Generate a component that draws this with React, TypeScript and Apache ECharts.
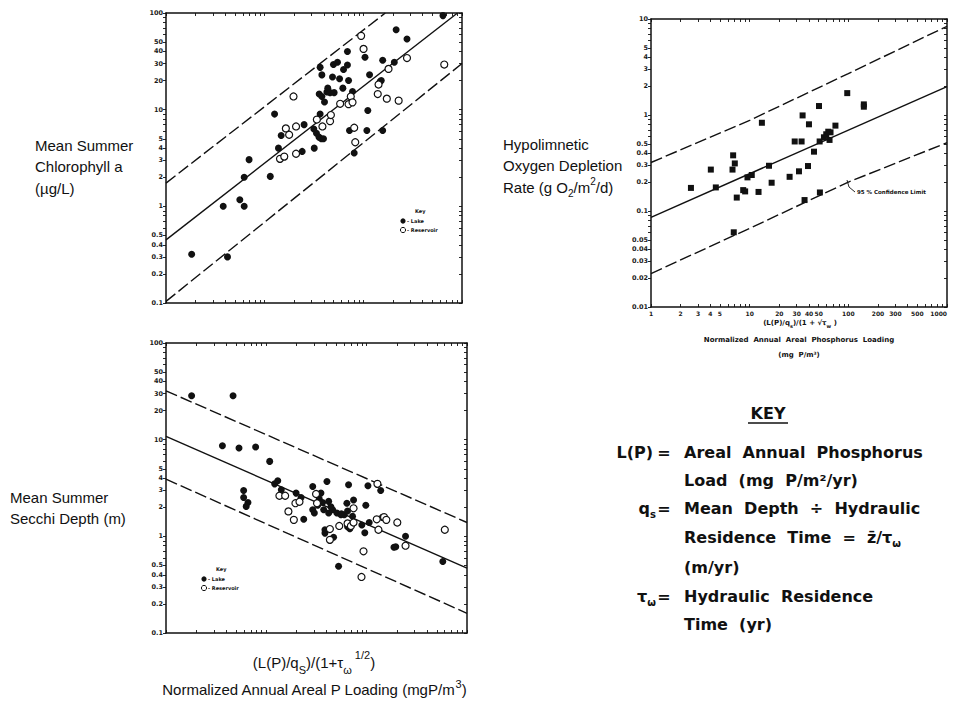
import React, { useEffect, useRef } from "react";
import * as echarts from "echarts";

// ---------- tick labels ----------
const chlYLabels = [0.1, 0.2, 0.3, 0.4, 0.5, 1, 2, 3, 4, 5, 10, 20, 30, 40, 50, 100];
const secYLabels = [0.1, 0.2, 0.3, 0.4, 0.5, 1, 2, 3, 4, 5, 10, 20, 30, 40, 50, 100];
const hypYLabels = [0.01, 0.02, 0.03, 0.04, 0.05, 0.1, 0.2, 0.3, 0.4, 0.5, 1, 2, 3, 4, 5, 10];
const hypXLabels = [1, 2, 3, 4, 5, 10, 20, 30, 40, 50, 100, 200, 300, 500, 1000];

// ---------- Mean summer chlorophyll a (µg/L) ----------
const chlLake: [number, number][] = [
  [1.82, 0.32], [3.8, 1.0], [4.2, 0.3], [5.6, 1.17], [6.2, 1.0], [6.2, 2.0], [6.95, 3.04],
  [11.4, 2.04], [12.6, 9.0], [13.8, 4.0], [14.7, 5.4], [24, 3.7], [25.1, 7.0], [31.8, 4.0],
  [31.5, 6.3], [33.5, 5.7], [35.5, 5.2], [37.5, 5.0], [39.5, 5.0], [36.5, 9.0], [35.7, 14.5],
  [38, 22.9], [36.5, 27.4], [38, 13.7], [40.4, 12], [42.7, 15.2], [43.6, 16.7], [46, 15],
  [50.6, 15], [48.7, 21.8], [49.8, 29.3], [54.7, 31], [57.4, 20.9], [62, 16.7], [63, 26],
  [69, 29], [69, 40], [70.8, 20], [77.7, 15.4], [72.4, 6.1], [80.8, 3.56], [104, 34.8],
  [115.6, 23], [111, 9.8], [108.6, 6.1], [148, 19.6], [152, 20], [157, 32.5], [157, 6.1],
  [206, 31], [215, 67], [277, 53.8], [641, 94],
];
const chlReservoir: [number, number][] = [
  [19.6, 13.7], [16.4, 6.4], [17.7, 5.5], [20.8, 6.7], [14.3, 3.1], [15.8, 3.27], [20.8, 3.5],
  [33.8, 7.9], [38.5, 6.7], [46, 7.6], [46.9, 8.8], [58.2, 11.5], [70.8, 11.4], [74.6, 13.7],
  [77.7, 11.9], [80.8, 6.5], [82.8, 4.6], [95, 58], [100.5, 42.5], [142.6, 18.2], [140, 14.5],
  [173, 13], [180, 26.4], [228, 12.4], [277, 34.2], [661, 29.3],
];
const chlFit: [number, number][] = [[1, 0.45], [900, 100]];
const chlUpper: [number, number][] = [[1, 1.74], [167, 100]];
const chlLower: [number, number][] = [[1, 0.104], [1000, 30]];

// ---------- Mean summer Secchi depth (m) ----------
const secLake: [number, number][] = [
  [1.8, 28.5], [4.66, 28.5], [3.65, 8.65], [5.34, 8.2], [7.82, 8.4], [10.8, 5.96], [5.94, 2.98],
  [5.94, 2.52], [6.56, 2.24], [6.3, 2.04], [12.1, 3.49], [13, 3.75], [14.1, 3.03], [19.8, 2.8],
  [22.2, 2.52], [23.6, 1.5], [29, 3.28], [29, 1.88], [30.1, 1.74], [32.5, 2.1], [35, 2.8],
  [33.7, 2.43], [36.4, 2.24], [37.3, 1.88], [38.4, 1.17], [38.4, 1.08], [40.2, 3.69], [41.8, 2.3],
  [41.8, 1.74], [45.8, 1.88], [46.8, 0.98], [52.5, 0.49], [50.5, 1.74], [55.4, 1.67], [59.8, 1.67],
  [63.5, 2.2], [66, 3.41], [64.5, 1.83], [64.5, 1.26], [68, 1.2], [74, 2.38], [72.3, 1.61],
  [89.5, 1.31], [95.8, 1.09], [98, 2.1], [103, 3.33], [106, 1.39], [138, 2.98], [143.5, 1.57],
  [187, 0.77], [195, 0.78], [244, 1.0], [574, 0.55], [44, 2.02], [56, 1.71],
];
const secReservoir: [number, number][] = [
  [13.5, 2.63], [15.4, 2.63], [16.6, 1.81], [18.8, 1.48], [19.5, 2.2], [21.4, 2.28], [31.3, 2.74],
  [32, 2.2], [43, 1.19], [43, 0.92], [53.3, 1.28], [64.5, 1.36], [69.6, 1.28], [74, 1.39],
  [74, 1.95], [93, 0.7], [88.8, 0.38], [128, 3.49], [126, 1.5], [131, 1.17], [149, 1.58],
  [157, 1.48], [202, 1.39], [244, 0.8], [601, 1.17],
];
const secFit: [number, number][] = [[1, 10.8], [1000, 0.47]];
const secUpper: [number, number][] = [[1, 32], [1000, 1.39]];
const secLower: [number, number][] = [[1, 3.9], [1000, 0.16]];

// ---------- Hypolimnetic oxygen depletion rate (g O2/m2/d) ----------
const hypPoints: [number, number][] = [
  [2.54, 0.174], [4.04, 0.27], [4.54, 0.176], [6.8, 0.38], [6.7, 0.27], [7.07, 0.313], [7.4, 0.138],
  [8.6, 0.165], [9.0, 0.16], [9.5, 0.224], [10.5, 0.237], [12.3, 0.158], [13.3, 0.83], [15.7, 0.296],
  [16.7, 0.197], [25.4, 0.227], [28.6, 0.53], [33.6, 0.53], [31.6, 0.259], [34.4, 0.99], [36, 0.13],
  [39, 0.294], [39.9, 0.8], [44.9, 0.415], [50.4, 1.24], [51.2, 0.53], [51.5, 0.156], [56.6, 0.586],
  [59.7, 0.63], [62.6, 0.67], [64.5, 0.55], [66, 0.66], [74, 0.775], [97.5, 1.69], [143.6, 1.29],
  [143.6, 1.22], [6.9, 0.06],
];
const hypFit: [number, number][] = [[1, 0.086], [1000, 1.98]];
const hypUpper: [number, number][] = [[1, 0.32], [10, 0.88], [100, 2.7], [1000, 8.4]];
const hypLower: [number, number][] = [[1, 0.0223], [10, 0.066], [100, 0.2], [1000, 0.515]];

// ---------- helpers ----------
function logTicks(lo: number, hi: number) {
  const t: number[] = [];
  for (let e = lo; e < hi; e++) for (let m = 1; m < 10; m++) t.push(+(m * Math.pow(10, e)).toPrecision(6));
  t.push(+Math.pow(10, hi).toPrecision(6));
  return t;
}
const fmt = (v: number) => String(+(+v).toPrecision(4));
const INK = "#111";

function axis(
  gridIndex: number,
  min: number,
  max: number,
  position: string,
  ticks: number[],
  labels: number[] | null,
  inside: boolean,
  labelSize = 6.5
) {
  return {
    type: "log",
    logBase: 10,
    gridIndex,
    min,
    max,
    position,
    axisLine: { show: true, onZero: false, lineStyle: { color: INK, width: 1.5 } },
    axisTick: { show: true, inside, length: 3, customValues: ticks, lineStyle: { color: INK, width: 0.9 } },
    axisLabel: labels
      ? {
          show: true,
          customValues: labels,
          formatter: fmt,
          fontSize: labelSize,
          fontWeight: "bold",
          fontFamily: "DejaVu Sans",
          color: "#1a1a1a",
          margin: 3,
          alignMaxLabel: position === "bottom" ? "right" : undefined,
        }
      : { show: false },
    splitLine: { show: false },
    minorTick: { show: false },
    minorSplitLine: { show: false },
  };
}

function scatter(data: [number, number][], gi: number, open: boolean, square = false) {
  return {
    type: "scatter",
    xAxisIndex: gi * 2,
    yAxisIndex: gi * 2,
    data,
    symbol: square ? "rect" : "circle",
    symbolSize: square ? 6 : 7,
    itemStyle: open
      ? { color: "#fff", borderColor: INK, borderWidth: 1.2, opacity: 1 }
      : { color: INK, opacity: 1 },
    z: 4,
  };
}
function line(data: [number, number][], gi: number, dashed: boolean) {
  return {
    type: "line",
    xAxisIndex: gi * 2,
    yAxisIndex: gi * 2,
    data,
    symbol: "none",
    clip: true,
    lineStyle: { color: INK, width: 1.4, type: dashed ? [12, 4] : "solid" },
    z: 3,
  };
}

const SANS = "Liberation Sans";
const KEYF = "DejaVu Sans";

function txt(x: number, y: number, text: string, opts: any = {}) {
  return {
    type: "text",
    x,
    y,
    style: {
      text,
      fill: INK,
      fontFamily: SANS,
      fontSize: 15,
      textAlign: "left",
      textVerticalAlign: "middle",
      ...opts,
    },
  };
}

export default function App() {
  const ref = useRef<HTMLDivElement>(null);
  useEffect(() => {
    if (!ref.current) return;
    const chart = echarts.init(ref.current, null, { renderer: "svg" });
    const t13 = logTicks(0, 3);
    const tY1 = logTicks(-1, 2);
    const tY3 = logTicks(-2, 1);

    const keyRich = {
      sub: { fontSize: 10, fontFamily: KEYF, fontWeight: "bold", verticalAlign: "bottom", lineHeight: 10 },
    };
    const keyOpts = { fontFamily: KEYF, fontWeight: "bold", fontSize: 16, lineHeight: 22, rich: keyRich };

    const smallKey = (x: number, y: number) => [
      txt(x + 12, y, "Key", { fontSize: 5, fontWeight: "bold", fontFamily: KEYF }),
      { type: "circle", shape: { cx: x, cy: y + 10, r: 2.6 }, style: { fill: INK } },
      txt(x + 4, y + 10, "- Lake", { fontSize: 5, fontWeight: "bold", fontFamily: KEYF }),
      { type: "circle", shape: { cx: x, cy: y + 19, r: 2.6 }, style: { fill: "#fff", stroke: INK, lineWidth: 1 } },
      txt(x + 4, y + 19, "- Reservoir", { fontSize: 5, fontWeight: "bold", fontFamily: KEYF }),
    ];

    const option: any = {
      animation: false,
      backgroundColor: "#fff",
      grid: [
        { left: 166, top: 13, width: 296, height: 290, outerBoundsMode: "none", containLabel: false },
        { left: 166, top: 343, width: 301, height: 290, outerBoundsMode: "none", containLabel: false },
        { left: 651, top: 19, width: 296, height: 288, outerBoundsMode: "none", containLabel: false },
      ],
      xAxis: [
        axis(0, 1, 1000, "bottom", t13, null, true),
        axis(0, 1, 1000, "top", t13, null, true),
        axis(1, 1, 1000, "bottom", t13, null, true),
        axis(1, 1, 1000, "top", t13, null, true),
        axis(2, 1, 1000, "bottom", t13, hypXLabels, true, 6),
        axis(2, 1, 1000, "top", t13, null, true),
      ],
      yAxis: [
        axis(0, 0.1, 100, "left", tY1, chlYLabels, false),
        axis(0, 0.1, 100, "right", tY1, null, true),
        axis(1, 0.1, 100, "left", tY1, secYLabels, false),
        axis(1, 0.1, 100, "right", tY1, null, true),
        axis(2, 0.01, 10, "left", tY3, hypYLabels, false),
        axis(2, 0.01, 10, "right", tY3, null, true),
      ],
      series: [
        line(chlFit, 0, false),
        line(chlUpper, 0, true),
        line(chlLower, 0, true),
        scatter(chlLake, 0, false),
        scatter(chlReservoir, 0, true),
        line(secFit, 1, false),
        line(secUpper, 1, true),
        line(secLower, 1, true),
        scatter(secLake, 1, false),
        scatter(secReservoir, 1, true),
        line(hypFit, 2, false),
        line(hypUpper, 2, true),
        line(hypLower, 2, true),
        scatter(hypPoints, 2, false, true),
      ],
      graphic: [
        // left-hand panel titles
        txt(35, 145, "Mean Summer"),
        txt(35, 166.5, "Chlorophyll a"),
        txt(35, 188, "(\u00b5g/L)"),
        txt(10, 497, "Mean Summer"),
        txt(10, 518.5, "Secchi Depth (m)"),
        txt(503, 144, "Hypolimnetic"),
        txt(503, 165.5, "Oxygen Depletion"),
        txt(503, 187, "Rate (g O{sub|2}/m{sup|2}/d)", {
          lineHeight: 22,
          rich: {
            sub: { fontSize: 10, fontFamily: SANS, verticalAlign: "bottom", lineHeight: 14 },
            sup: { fontSize: 10, fontFamily: SANS, verticalAlign: "top", lineHeight: 14 },
          },
        }),
        // bottom x title
        txt(314, 662, "(L(P)/q{sub|S})/(1+\u03c4{sub|\u03c9}{sup| 1/2})", {
          textAlign: "center",
          lineHeight: 26,
          rich: {
            sub: { fontSize: 11, fontFamily: SANS, verticalAlign: "bottom", lineHeight: 14 },
            sup: { fontSize: 11, fontFamily: SANS, verticalAlign: "top", lineHeight: 10 },
          },
        }),
        txt(314, 689, "Normalized Annual Areal P Loading (mgP/m{sup|3})", {
          textAlign: "center",
          lineHeight: 22,
          rich: { sup: { fontSize: 11, fontFamily: SANS, verticalAlign: "top", lineHeight: 10 } },
        }),
        // right panel x titles
        txt(800, 323, "(L(P)/q{sub|s})/(1 + \u221a\u03c4{sub|w} )", {
          textAlign: "center",
          fontSize: 7,
          fontWeight: "bold",
          fontFamily: KEYF,
          lineHeight: 10,
          rich: { sub: { fontSize: 5, fontWeight: "bold", fontFamily: KEYF, verticalAlign: "bottom", lineHeight: 6 } },
        }),
        txt(799, 340, "Normalized  Annual  Areal  Phosphorus  Loading", {
          textAlign: "center",
          fontSize: 7,
          fontWeight: "bold",
          fontFamily: KEYF,
        }),
        txt(799, 355, "(mg  P/m\u00b3)", { textAlign: "center", fontSize: 7, fontWeight: "bold", fontFamily: KEYF }),
        // confidence-limit annotation
        txt(857, 192, "95 % Confidence Limit", { fontSize: 5.5, fontWeight: "bold", fontFamily: KEYF }),
        {
          type: "polyline",
          shape: { points: [[847, 180], [849, 187], [855, 192]] },
          style: { stroke: INK, lineWidth: 0.9, fill: null },
        },
        // in-plot keys
        ...smallKey(403, 211),
        ...smallKey(204, 569),
        // KEY block
        txt(768, 413, "KEY", { ...keyOpts, textAlign: "center" }),
        { type: "line", shape: { x1: 748, y1: 423, x2: 788, y2: 423 }, style: { stroke: INK, lineWidth: 1.5 } },
        txt(653, 452, "L(P)", { ...keyOpts, textAlign: "right" }),
        txt(664, 452, "=", { ...keyOpts, textAlign: "center" }),
        txt(684, 452, "Areal  Annual  Phosphorus", keyOpts),
        txt(684, 480, "Load  (mg  P/m\u00b2/yr)", keyOpts),
        txt(656, 508, "q{sub|s}", { ...keyOpts, textAlign: "right" }),
        txt(664, 508, "=", { ...keyOpts, textAlign: "center" }),
        txt(684, 508, "Mean  Depth  \u00f7  Hydraulic", keyOpts),
        txt(684, 537, "Residence  Time  =  z\u0304/\u03c4{sub|\u03c9}", keyOpts),
        txt(684, 567, "(m/yr)", keyOpts),
        txt(656, 596, "\u03c4{sub|\u03c9}", { ...keyOpts, textAlign: "right" }),
        txt(664, 596, "=", { ...keyOpts, textAlign: "center" }),
        txt(684, 596, "Hydraulic  Residence", keyOpts),
        txt(684, 624, "Time  (yr)", keyOpts),
      ],
    };
    chart.setOption(option);
    return () => chart.dispose();
  }, []);
  return <div ref={ref} style={{ position: "absolute", left: 0, top: 0, width: 954, height: 706 }} />;
}
